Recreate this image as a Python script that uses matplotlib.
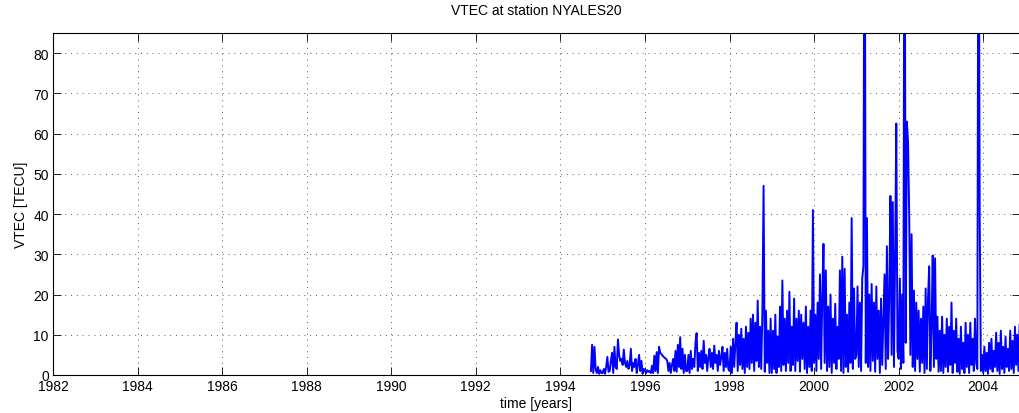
import matplotlib
matplotlib.use('Agg')
import matplotlib.pyplot as plt
import numpy as np

plt.rcParams['font.family'] = ['Liberation Sans', 'DejaVu Sans']

# first sample at 1994 + 26/36, then one value every 1/36 year
t_start = 1994 + 26 / 36
dt = 1 / 36

vtec_1994 = [1.0, 7.5, 0.5, 7.0, 1.5, 0.5, 2.0, 0.3, 1.2, 0.5]
vtec_1995 = [0.5, 1.5, 0.3, 2.0, 4.5, 0.8, 1.0, 3.5, 5.5, 0.5, 7.0, 2.0,
             1.5, 8.8, 5.0, 3.5, 4.0, 2.5, 6.3, 3.0, 2.0, 3.5, 1.5, 2.5,
             6.5, 1.0, 3.0, 2.0, 4.0, 0.5, 2.5, 5.0, 1.0, 3.5, 0.3, 1.5]
vtec_1996 = [1.0, 0.5, 1.2, 0.8, 1.0, 0.5, 2.3, 0.5, 4.8, 1.0, 5.7, 0.5,
             7.0, 5.5, 5.2, 4.8, 4.5, 4.2, 4.0, 3.5, 1.0, 3.0, 0.5, 2.5,
             4.0, 1.0, 6.0, 0.8, 7.5, 2.0, 9.4, 1.5, 6.5, 0.5, 5.0, 1.0]
vtec_1997 = [1.0, 5.0, 0.5, 6.0, 1.5, 4.0, 2.0, 8.0, 10.4, 1.0, 5.5, 2.0,
             6.0, 1.5, 8.5, 3.0, 5.0, 1.0, 4.5, 6.5, 2.0, 5.5, 1.5, 7.3,
             3.0, 5.0, 1.0, 6.0, 2.5, 4.5, 7.0, 1.0, 5.5, 2.0, 6.5, 1.5]
vtec_1998 = [1.0, 7.0, 0.5, 9.0, 2.0, 8.0, 13.0, 1.0, 10.0, 2.5, 11.5, 1.5,
             9.0, 0.5, 12.0, 2.0, 10.5, 1.5, 14.0, 3.0, 15.0, 1.0, 13.0, 3.5,
             18.5, 2.0, 12.0, 1.5, 16.0, 47.0, 0.8, 16.0, 3.0, 11.0, 0.5, 14.0]
vtec_1999 = [0.5, 11.0, 1.5, 15.0, 0.5, 9.5, 2.0, 17.0, 1.0, 23.5, 2.5, 14.0,
             1.0, 16.0, 3.0, 20.7, 1.0, 12.0, 2.5, 19.0, 1.0, 14.0, 3.5, 16.0,
             0.8, 15.0, 4.0, 13.0, 1.5, 17.0, 0.5, 12.0, 2.0, 16.0, 1.0, 41.0]
vtec_2000 = [3.0, 15.0, 1.0, 18.0, 4.0, 25.0, 1.5, 20.0, 32.6, 3.0, 26.0, 1.0,
             17.0, 2.0, 20.0, 0.5, 14.0, 3.0, 17.7, 1.5, 12.0, 4.0, 26.0, 1.0,
             29.4, 0.5, 26.4, 2.0, 15.0, 0.8, 18.0, 3.0, 39.0, 1.5, 21.5, 4.0]
vtec_2001 = [5.0, 22.0, 2.0, 18.0, 1.0, 24.0, 27.0, 150.0, 3.0, 39.0, 2.0, 20.0,
             1.0, 22.6, 3.5, 18.0, 0.8, 22.0, 4.0, 16.0, 0.5, 19.0, 2.5, 14.0,
             25.0, 1.5, 32.0, 4.0, 20.0, 44.5, 5.0, 43.0, 2.0, 30.0, 62.5, 6.0]
vtec_2002 = [4.0, 24.0, 1.5, 20.0, 3.0, 150.0, 8.0, 63.0, 58.0, 39.7, 5.0, 35.0,
             2.0, 21.0, 1.0, 18.0, 4.0, 16.0, 0.8, 14.0, 3.0, 17.0, 0.5, 21.5,
             1.5, 19.0, 27.0, 1.0, 12.0, 29.7, 2.0, 29.0, 4.0, 14.5, 0.8, 11.0]
vtec_2003 = [1.0, 14.5, 0.5, 10.0, 2.0, 14.0, 0.8, 12.0, 2.5, 18.0, 0.5, 11.0,
             3.0, 14.0, 0.8, 9.0, 0.3, 12.0, 1.5, 8.0, 0.5, 13.0, 2.0, 10.0,
             0.5, 13.0, 2.5, 9.0, 1.0, 14.0, 3.0, 1.5, 150.0, 40.0, 1.0, 5.0]
vtec_2004 = [0.5, 7.0, 1.0, 5.5, 0.3, 8.0, 1.5, 9.0, 0.8, 6.0, 2.0, 10.5,
             1.0, 8.0, 0.3, 11.0, 1.5, 7.0, 0.5, 9.5, 2.0, 6.5, 1.0, 11.0,
             1.5, 8.5, 0.5, 12.0, 2.5, 10.0, 1.0, 12.5]

vtec = np.array(vtec_1994 + vtec_1995 + vtec_1996 + vtec_1997 + vtec_1998 +
                vtec_1999 + vtec_2000 + vtec_2001 + vtec_2002 + vtec_2003 +
                vtec_2004)
t = t_start + dt * np.arange(len(vtec))

x_ticks = np.arange(1982, 2005, 2)
y_ticks = np.arange(0, 81, 10)

fig = plt.figure(figsize=(10.2, 4.14), dpi=100)
ax = fig.add_axes([53 / 1020, 38 / 414, 967 / 1020, 342 / 414])

ax.plot(t, vtec, color=(0, 0, 1), lw=1.4)

ax.set_xlim(1982, 2004.87)
ax.set_ylim(0, 85)
ax.set_xticks(x_ticks)
ax.set_yticks(y_ticks)
ax.tick_params(direction='in', length=6, width=0.6, labelsize=10,
               top=True, right=True, pad=3)
ax.grid(True, color='0.35', linestyle=(0, (1, 5)), lw=0.7)
for s in ax.spines.values():
    s.set_linewidth(0.8)

ax.set_title('VTEC at station NYALES20', fontsize=10, pad=14)
ax.set_xlabel('time [years]', fontsize=10, labelpad=2)
ax.set_ylabel('VTEC [TECU]', fontsize=10, labelpad=4)

fig.savefig('out.png', dpi=100)
